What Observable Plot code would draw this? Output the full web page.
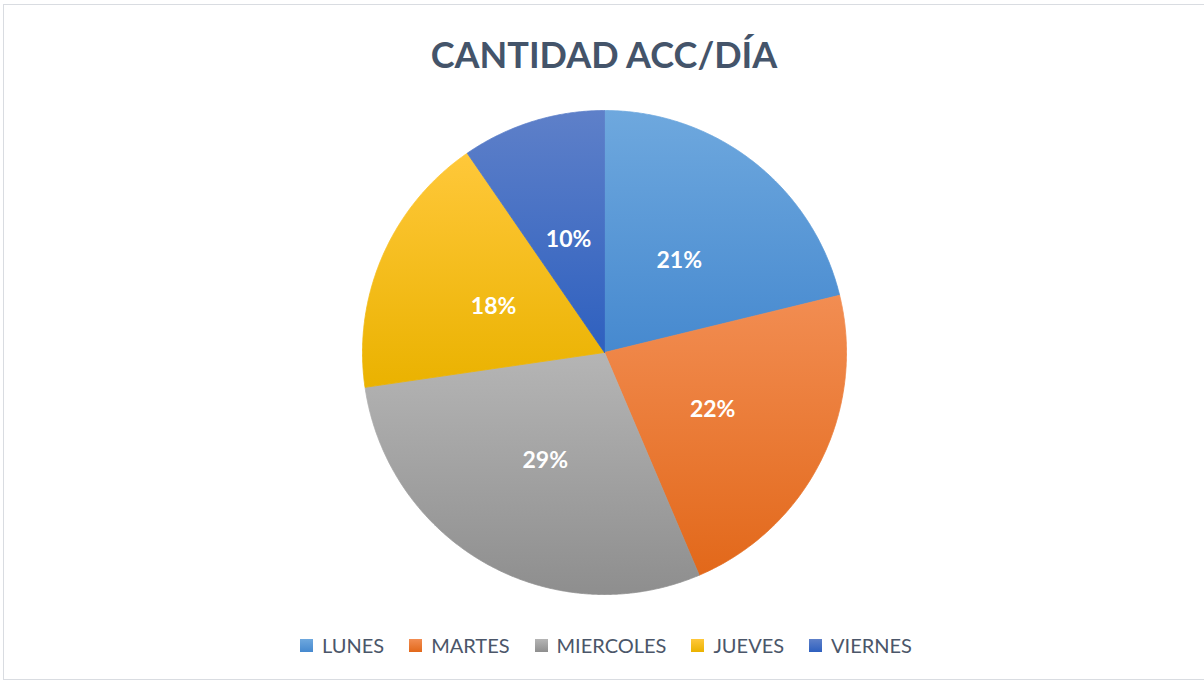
<!DOCTYPE html>
<html>
<head>
<meta charset="utf-8">
<script src="https://cdn.jsdelivr.net/npm/d3@7"></script>
<script src="https://cdn.jsdelivr.net/npm/@observablehq/plot@0.6"></script>
<style>
  html, body { margin: 0; padding: 0; background: #fff; }
  #frame { position: absolute; left: 3px; top: 4px; width: 1210px; height: 676px; border: 1px solid #d9dce1; box-sizing: border-box; }
  #title { position: absolute; left: 0; top: 32px; width: 1208px; text-align: center; font-family: Lato, "Open Sans", sans-serif; font-weight: 700; font-size: 36px; color: #44546a; }
  #chart { position: absolute; left: 0; top: 92px; }
  #legend { position: absolute; left: 0; top: 633px; width: 1212px; display: flex; justify-content: center; gap: 25px; font-family: Lato, "Open Sans", sans-serif; font-size: 20px; color: #4b5669; }
  .item { display: flex; align-items: center; gap: 9px; }
  .sw { width: 13px; height: 13px; }
</style>
</head>
<body>
<div id="frame"></div>
<div id="title">CANTIDAD ACC/DÍA</div>
<div id="chart"></div>
<div id="legend"></div>
<script>
const days = ["LUNES", "MARTES", "MIERCOLES", "JUEVES", "VIERNES"];
const shares = [21.2, 22.4, 29.1, 17.7, 9.6];
const topColors = ["#6ea8de", "#f28d52", "#b5b5b5", "#ffc83a", "#5e80c9"];
const bottomColors = ["#4689cf", "#e2681a", "#8e8e8e", "#eab200", "#2e60bf"];

const W = 1204, H = 520, cx = 604, cy = 260, R = 242;

const total = d3.sum(shares);
const pie = d3.pie().sort(null).value(d => d)(shares);

// slice outlines in unit-circle data space (y up, angles clockwise from top)
const slices = pie.map((p, i) => {
  const n = Math.max(2, Math.ceil((p.endAngle - p.startAngle) / 0.005));
  const pts = [{day: days[i], x: 0, y: 0}];
  for (let k = 0; k <= n; k++) {
    const a = p.startAngle + (p.endAngle - p.startAngle) * k / n;
    pts.push({day: days[i], x: Math.sin(a), y: Math.cos(a)});
  }
  pts.push({day: days[i], x: 0, y: 0});
  return pts;
});

const labelData = pie.map((p, i) => {
  const a = (p.startAngle + p.endAngle) / 2;
  return {day: days[i], x: 0.5 * Math.sin(a), y: 0.5 * Math.cos(a), text: Math.round(shares[i] / total * 100) + "%"};
});

const chart = Plot.plot({
  width: W,
  height: H,
  margin: 0,
  x: {domain: [-cx / R, (W - cx) / R], axis: null},
  y: {domain: [-(H - cy) / R, cy / R], axis: null},
  style: {background: "transparent"},
  marks: [
    ...slices.map((pts, i) => Plot.line(pts, {x: "x", y: "y", fill: `url(#grad${i})`, stroke: `url(#grad${i})`, strokeWidth: 0.8, curve: "linear"})),
    Plot.text(labelData, {x: "x", y: "y", dy: 3, text: "text", fill: "white", fontSize: 23, fontWeight: "bold", fontFamily: "Lato, 'Open Sans', sans-serif"})
  ]
});

// gradient definitions
const svg = d3.select(chart);
const defs = svg.insert("defs", ":first-child");
days.forEach((d, i) => {
  const g = defs.append("linearGradient").attr("id", `grad${i}`).attr("x1", 0).attr("y1", 0).attr("x2", 0).attr("y2", 1);
  g.append("stop").attr("offset", "0%").attr("stop-color", topColors[i]);
  g.append("stop").attr("offset", "100%").attr("stop-color", bottomColors[i]);
});

document.getElementById("chart").appendChild(chart);

const legend = d3.select("#legend");
days.forEach((d, i) => {
  const it = legend.append("div").attr("class", "item");
  it.append("div").attr("class", "sw").style("background", `linear-gradient(${topColors[i]}, ${bottomColors[i]})`);
  it.append("span").text(d);
});
</script>
</body>
</html>
